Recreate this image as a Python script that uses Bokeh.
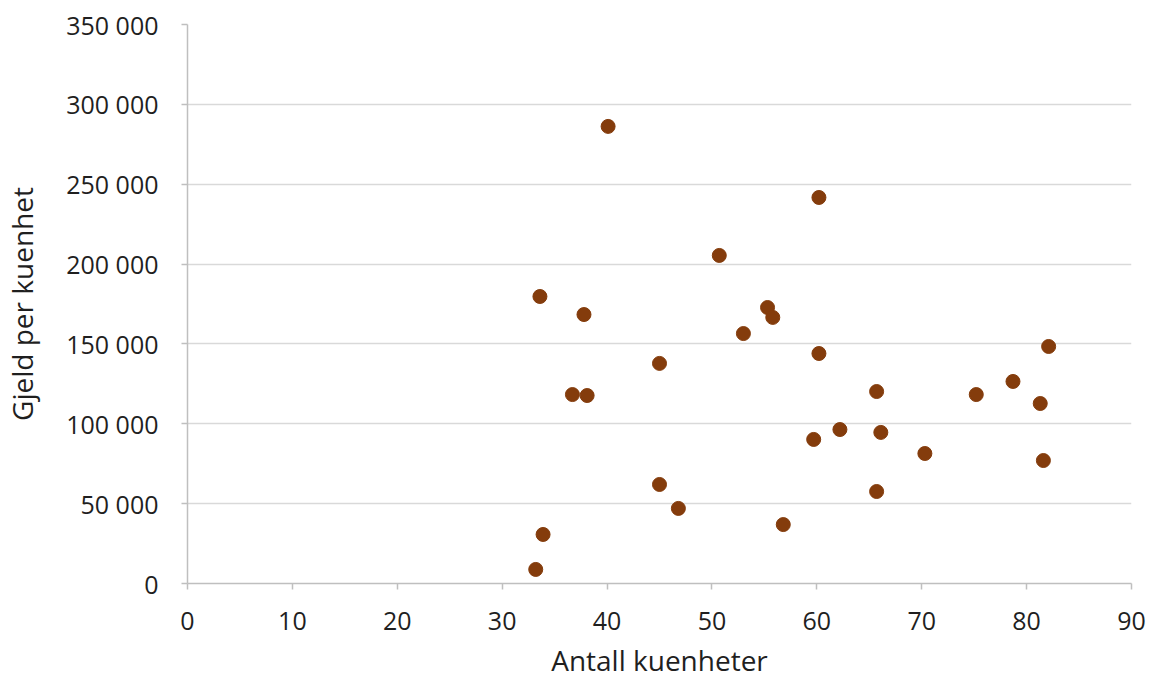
from bokeh.plotting import figure
from bokeh.embed import file_html
from bokeh.resources import INLINE
from bokeh.models import ColumnDataSource, Range1d, FixedTicker, CustomJSTickFormatter

antall = [33.2, 33.9, 33.6, 36.7, 38.1, 37.8, 40.1, 45.0, 45.0, 46.8,
          50.7, 53.0, 55.3, 55.8, 56.8, 59.7, 60.2, 60.2, 62.2, 65.7,
          65.7, 66.1, 70.3, 75.2, 78.7, 81.3, 81.6, 82.1]
gjeld = [8800, 30700, 179700, 118300, 117700, 168400, 286200, 137800, 62000, 47000,
         205400, 156500, 172800, 166600, 36900, 90200, 241700, 144000, 96400, 120200,
         57600, 94600, 81400, 118300, 126500, 112700, 77000, 148400]

x_ticks = [0, 10, 20, 30, 40, 50, 60, 70, 80, 90]
y_ticks = [0, 50000, 100000, 150000, 200000, 250000, 300000, 350000]

FONT = "Open Sans"
TXT = "#1F1F1F"

p = figure(width=1141, height=675, frame_width=944, frame_height=559,
           min_border_left=182, min_border_right=15, min_border_top=24, min_border_bottom=92,
           output_backend="svg", toolbar_location=None,
           x_range=Range1d(0, 90), y_range=Range1d(0, 350000))
p.outline_line_color = None
p.background_fill_color = "white"

src = ColumnDataSource(dict(x=antall, y=gjeld))
p.scatter("x", "y", source=src, size=14, fill_color="#843C0C", line_color="#843C0C")

p.xgrid.grid_line_color = None
p.ygrid.grid_line_color = "#D9D9D9"
p.ygrid.grid_line_width = 1.5

p.xaxis.ticker = FixedTicker(ticks=x_ticks)
p.yaxis.ticker = FixedTicker(ticks=y_ticks)
p.yaxis.formatter = CustomJSTickFormatter(code="""
return tick.toString().replace(/\\B(?=(\\d{3})+(?!\\d))/g, " ");
""")

for ax in (p.xaxis[0], p.yaxis[0]):
    ax.axis_line_color = "#BFBFBF"
    ax.axis_line_width = 1.5
    ax.major_tick_line_color = "#BFBFBF"
    ax.major_tick_line_width = 1.5
    ax.major_tick_out = 6
    ax.major_tick_in = 0
    ax.minor_tick_line_color = None
    ax.major_label_text_font = FONT
    ax.major_label_text_font_size = "25px"
    ax.major_label_text_color = TXT
    ax.axis_label_text_font = FONT
    ax.axis_label_text_font_size = "28px"
    ax.axis_label_text_font_style = "normal"
    ax.axis_label_text_color = TXT

p.xaxis.axis_label = "Antall kuenheter"
p.yaxis.axis_label = "Gjeld per kuenhet"
p.xaxis.major_label_standoff = 22
p.yaxis.major_label_standoff = 23
p.xaxis.axis_label_standoff = 8
p.yaxis.axis_label_standoff = 22

open("out.html", "w").write(file_html(p, INLINE))
